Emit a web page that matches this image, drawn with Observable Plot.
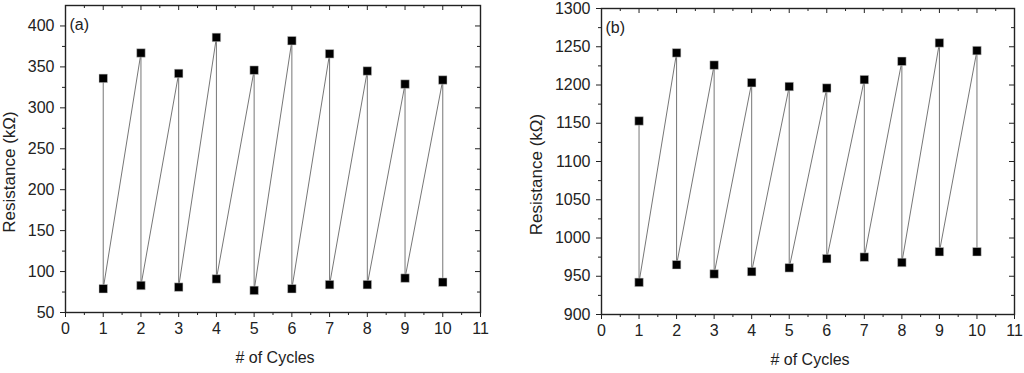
<!DOCTYPE html>
<html>
<head>
<meta charset="utf-8">
<script src="https://cdn.jsdelivr.net/npm/d3@7"></script>
<script src="https://cdn.jsdelivr.net/npm/@observablehq/plot@0.6"></script>
<style>
  html, body { margin: 0; padding: 0; background: #fff; }
  #wrap { display: flex; width: 1024px; height: 373px; }
  #wrap svg { display: block; }
</style>
</head>
<body>
<div id="wrap"></div>
<script>
// ---- data ----
const cycles = [1, 2, 3, 4, 5, 6, 7, 8, 9, 10];
const highA = [336, 367, 342, 386, 346, 382, 366, 345, 329, 334];
const lowA  = [79, 83, 81, 91, 77, 79, 84, 84, 92, 87];
const highB = [1153, 1242, 1226, 1203, 1198, 1196, 1207, 1231, 1255, 1245];
const lowB  = [942, 965, 953, 956, 961, 973, 975, 968, 982, 982];

const xTicks = [0, 1, 2, 3, 4, 5, 6, 7, 8, 9, 10, 11];
const xMinor = [0.5, 1.5, 2.5, 3.5, 4.5, 5.5, 6.5, 7.5, 8.5, 9.5, 10.5];
const yTicksA = [50, 100, 150, 200, 250, 300, 350, 400];
const yMinorA = [75, 125, 175, 225, 275, 325, 375];
const yTicksB = [900, 950, 1000, 1050, 1100, 1150, 1200, 1250, 1300];
const yMinorB = [925, 975, 1025, 1075, 1125, 1175, 1225, 1275];

const xLabel = "# of Cycles";
const yLabel = "Resistance (kΩ)";

function makePanel({high, low, yDomain, yTicks, yMinor, tag, margins, yLabelOffset}) {
  const path = [];
  const pts = [];
  cycles.forEach((c, i) => {
    path.push({x: c, y: high[i]});
    path.push({x: c, y: low[i]});
    pts.push({x: c, y: high[i]});
    pts.push({x: c, y: low[i]});
  });
  const ink = "#222";
  const fmt = d => String(d);
  return Plot.plot({
    width: 512,
    height: 373,
    ...margins,
    style: {fontFamily: "'Liberation Sans', Arial, sans-serif", fontSize: "16px", color: ink, background: "white"},
    x: {domain: [0, 11]},
    y: {domain: yDomain},
    marks: [
      Plot.frame({stroke: ink, strokeWidth: 1.4}),
      // bottom axis
      Plot.axisX({ticks: xTicks, tickSize: 5, tickPadding: 5, label: null, tickFormat: fmt, stroke: ink}),
      Plot.axisX({ticks: xMinor, tickSize: 3, text: null, label: null, stroke: ink}),
      // top inward ticks
      Plot.axisX({anchor: "bottom", frameAnchor: "top", ticks: xTicks, tickSize: 5, text: null, label: null, stroke: ink}),
      Plot.axisX({anchor: "bottom", frameAnchor: "top", ticks: xMinor, tickSize: 3, text: null, label: null, stroke: ink}),
      // left axis
      Plot.axisY({ticks: yTicks, tickSize: 5, tickPadding: 6, label: null, tickFormat: fmt, stroke: ink}),
      Plot.axisY({ticks: yMinor, tickSize: 3, text: null, label: null, stroke: ink}),
      // right inward ticks
      Plot.axisY({anchor: "left", frameAnchor: "right", ticks: yTicks, tickSize: 5, text: null, label: null, stroke: ink}),
      Plot.axisY({anchor: "left", frameAnchor: "right", ticks: yMinor, tickSize: 3, text: null, label: null, stroke: ink}),
      // data
      Plot.line(path, {x: "x", y: "y", stroke: "#666", strokeWidth: 0.9}),
      Plot.dot(pts, {x: "x", y: "y", symbol: "square", r: 4.8, fill: "#000", stroke: "#ccc", strokeWidth: 0.5}),
      // labels
      Plot.text([tag], {text: d => d, frameAnchor: "top-left", dx: 4, dy: 19, fontSize: 16, textAnchor: "start", lineAnchor: "middle", fill: ink}),
      Plot.text([xLabel], {text: d => d, frameAnchor: "bottom", dx: 2, dy: 45, fontSize: 16, textAnchor: "middle", lineAnchor: "middle", fill: ink}),
      Plot.text([yLabel], {text: d => d, frameAnchor: "left", dx: -yLabelOffset, dy: 13, rotate: -90, fontSize: 17, textAnchor: "middle", lineAnchor: "middle", fill: ink})
    ]
  });
}

const wrap = document.getElementById("wrap");
wrap.appendChild(makePanel({
  high: highA, low: lowA, yDomain: [50, 425], yTicks: yTicksA, yMinor: yMinorA, tag: "(a)",
  margins: {marginLeft: 65, marginRight: 32, marginTop: 5, marginBottom: 61}, yLabelOffset: 56
}));
wrap.appendChild(makePanel({
  high: highB, low: lowB, yDomain: [900, 1300], yTicks: yTicksB, yMinor: yMinorB, tag: "(b)",
  margins: {marginLeft: 89, marginRight: 10, marginTop: 8, marginBottom: 59}, yLabelOffset: 65
}));
</script>
</body>
</html>
